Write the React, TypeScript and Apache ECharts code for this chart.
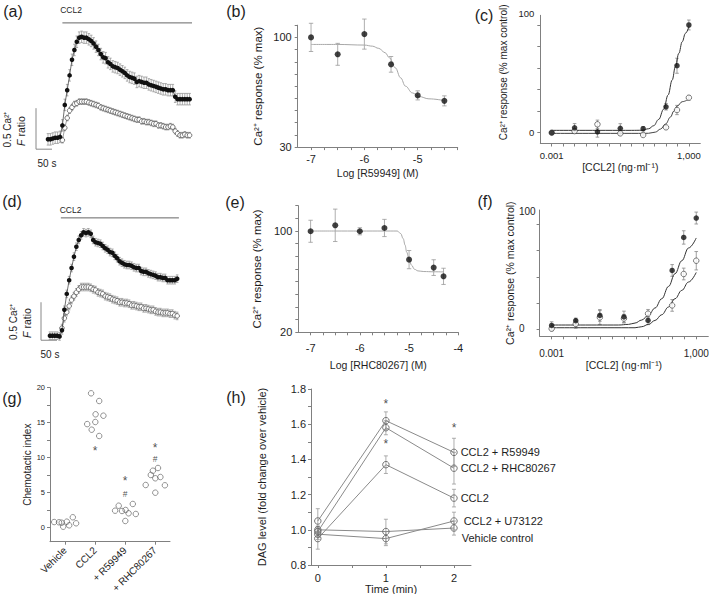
import { useEffect, useRef } from "react";
import * as echarts from "echarts";

const FONT = '"Liberation Sans", Arial, Helvetica, sans-serif';
const INK = "#1e1e1e";
const AXIS = "#808080";

// ---------- (a) Ca2+ traces (F ratio), sampled every 7.5 s ----------
const aSampleStep = 7.5;
const aFilled = [0.13,0.13,0.14,0.15,0.15,0.16,0.30,0.55,0.73,0.91,1.10,1.22,1.32,1.37,1.38,1.37,1.37,1.35,1.33,1.30,1.26,1.22,1.17,1.13,1.12,1.07,1.05,1.02,1.01,1.00,0.98,0.96,0.94,0.91,0.89,0.88,0.87,0.83,0.84,0.83,0.82,0.82,0.80,0.79,0.78,0.77,0.76,0.75,0.74,0.74,0.73,0.73,0.73,0.65,0.62,0.62,0.62,0.62,0.62,0.62];
const aOpen = [null,null,null,null,null,null,0.12,0.27,0.39,0.48,0.52,0.56,0.57,0.59,0.59,0.59,0.59,0.58,0.57,0.56,0.55,0.54,0.52,0.51,0.50,0.49,0.48,0.47,0.46,0.45,0.44,0.43,0.42,0.41,0.40,0.39,0.38,0.37,0.37,0.35,0.35,0.34,0.34,0.33,0.32,0.32,0.30,0.30,0.29,0.28,0.28,0.29,0.28,0.23,0.20,0.18,0.18,0.19,0.18,0.18];
const aFilledSem = 0.07;
const aOpenSem = 0.035;
const aStimulus = [45, 450];
const aStimLevel = 1.55;

// ---------- (d) Ca2+ traces ----------
const dSampleStep = 7.5;
const dFilled = [0.07,0.07,0.07,0.07,0.06,0.14,0.41,0.62,0.80,0.96,1.11,1.24,1.33,1.39,1.43,1.42,1.43,1.41,1.33,1.30,1.29,1.28,1.25,1.22,1.20,1.17,1.16,1.12,1.09,1.05,1.03,1.01,1.00,1.00,0.99,0.97,0.96,0.96,0.92,0.91,0.91,0.89,0.88,0.87,0.86,0.84,0.84,0.83,0.83,0.80,0.80,0.80,0.80,0.82];
const dOpen = [null,null,null,null,null,0.17,0.30,0.38,0.46,0.54,0.59,0.64,0.68,0.71,0.71,0.71,0.71,0.70,0.68,0.67,0.64,0.63,0.62,0.59,0.58,0.57,0.55,0.54,0.53,0.51,0.51,0.50,0.50,0.49,0.47,0.47,0.46,0.45,0.45,0.43,0.43,0.42,0.41,0.41,0.39,0.38,0.38,0.37,0.37,0.37,0.36,0.36,0.34,0.33];
const dFilledSem = 0.05;
const dOpenSem = 0.05;
const dStimulus = [34, 403];
const dStimLevel = 1.62;

const scaleBarSeconds = 50;
const scaleBarRatio = 0.5;

// ---------- (b) R59949 concentration-response ----------
const bLogConc = [-7, -6.5, -6, -5.5, -5, -4.5];
const bResponse = [100, 89.2, 102.1, 82.8, 63.0, 59.5];
const bSem = [9, 7, 9.6, 5, 2.9, 3.2];
const bFitLog = [-7, -6.5, -6, -5.85, -5.73, -5.61, -5.53, -5.42, -5.32, -5.23, -5.1, -4.98, -4.79, -4.52];
const bFitResp = [95.5, 95.5, 95.1, 94.4, 93.0, 90.2, 87.0, 80.6, 74.2, 68.9, 64.6, 62.3, 60.8, 59.8];

// ---------- (e) RHC80267 concentration-response ----------
const eLogConc = [-7, -6.5, -6, -5.5, -5, -4.5, -4.3];
const eResponse = [99.8, 104.5, 99.8, 102.4, 77.4, 71.1, 64.2];
const eSem = [8.7, 12.8, 2.8, 6.8, 7.2, 6.2, 6.4];
const eFitLog = [-7, -6.5, -6, -5.5, -5.24, -5.17, -5.12, -5.08, -5.05, -5.0, -4.95, -4.89, -4.82, -4.7, -4.5, -4.29];
const eFitResp = [100, 100, 100, 100, 100, 98, 94, 88.8, 83.5, 77.7, 73, 69.8, 68.5, 68, 67.8, 67.7];

// ---------- (c) CCL2 concentration-response (log10 ng/ml) ----------
const cLogConc = [-3, -2, -1, 0, 1, 2, 2.48, 3];
const cControl = [0, 4.6, 0.9, 4.1, 3.7, 24.1, 62.2, 100];
const cControlSem = [1.5, 3.9, 5, 4.3, 2, 3, 7, 4.6];
const cDrug = [0, 1.5, 7.8, -0.6, -2.1, 5.0, 21.1, 32.5];
const cDrugSem = [1, 2, 3.9, 1.5, 1, 1.5, 4.3, 2];
const cFitControlLog = [-3, 0.5, 0.95, 1.24, 1.46, 1.68, 1.9, 2.09, 2.27, 2.41, 2.56, 2.71, 2.85, 3.0];
const cFitControl = [2.2, 2.2, 2.3, 3.7, 6.5, 12.4, 22.0, 35.0, 48.9, 61.3, 73.7, 84.5, 92.3, 98.4];
const cFitDrugLog = [-3, 0.8, 1.24, 1.54, 1.76, 1.98, 2.2, 2.34, 2.49, 2.71, 3.0];
const cFitDrug = [-0.6, -0.6, -0.5, 0.6, 3.4, 8.1, 14.6, 20.1, 24.8, 28.8, 31.3];

// ---------- (f) CCL2 concentration-response ----------
const fLogConc = [-3, -2, -1, 0, 1, 2, 2.48, 3];
const fControl = [3.4, 8.0, 13.0, 11.5, 8.2, 56.1, 87.7, 106.3];
const fControlSem = [3.5, 2.4, 5.6, 5.6, 4, 5.6, 6.4, 5.7];
const fDrug = [0.3, 4.8, 11.1, 10, 14.7, 22.6, 52.7, 65.4];
const fDrugSem = [2, 4, 6.7, 4, 4, 5.6, 5.6, 8.8];
const fFitControlLog = [-3, -0.23, 0.19, 0.46, 0.74, 1.02, 1.29, 1.57, 1.85, 2.12, 2.4, 2.68, 3.0];
const fFitControl = [3.8, 3.8, 4.4, 5.7, 8.6, 13.4, 20.1, 29.0, 40.8, 53.0, 65.4, 77.6, 87.2];
const fFitDrugLog = [-3, 0.46, 0.74, 1.02, 1.29, 1.57, 1.85, 2.12, 2.4, 2.68, 3.0];
const fFitDrug = [1.2, 1.2, 2.2, 4.4, 8.2, 13.7, 21.1, 29.0, 37.0, 45.0, 54.2];

// ---------- (g) chemotactic index ----------
const gCategories = ["Vehicle", "CCL2", "+ R59949", "+ RHC80267"];
const gVehicleX = [0.64, 0.80, 0.89, 0.94, 1.06, 1.14, 1.26, 1.37];
const gVehicle = [0.81, 0.77, 0.71, 0.14, 0.86, 0.34, 1.49, 0.63];
const gCCL2X = [1.87, 2.14, 2.02, 2.28, 1.74, 2.01, 1.89, 2.14];
const gCCL2 = [19.2, 18.1, 16.2, 16.0, 14.8, 15.1, 14.0, 13.1];
const gR59949X = [2.67, 2.79, 2.9, 3.02, 3.12, 3.26, 3.36, 3.01];
const gR59949 = [2.43, 3.14, 2.39, 2.53, 2.06, 3.39, 1.96, 0.96];
const gRHCX = [3.69, 3.86, 3.93, 4.01, 4.1, 4.18, 4.01, 4.33];
const gRHC = [6.1, 7.53, 8.14, 7.06, 8.53, 7.24, 5.0, 6.06];
const gMarks: [number, number, string][] = [[2, 11.3, "*"], [3, 7.0, "*"], [3, 4.85, "#"], [4, 11.8, "*"], [4, 9.75, "#"]];

// ---------- (h) DAG level ----------
const hTimes = [0, 1, 2];
const hR59949 = [1.05, 1.62, 1.44];
const hR59949Sem = [0.07, 0.05, 0.08];
const hRHC = [0.99, 1.58, 1.35];
const hRHCSem = [0.03, 0.04, 0.09];
const hCCL2 = [0.95, 1.37, 1.18];
const hCCL2Sem = [0.06, 0.05, 0.05];
const hU73122 = [0.975, 0.95, 1.05];
const hU73122Sem = [0.03, 0.04, 0.05];
const hVehicle = [1.0, 0.99, 1.01];
const hVehicleSem = [0.02, 0.07, 0.04];
const hMarks: [number, number, string][] = [[1, 1.73, "*"], [1, 1.5, "*"], [2, 1.59, "*"]];

// ---------- helpers ----------
const pairs = (xs: number[], ys: (number | null)[]) => {
  const out: number[][] = [];
  xs.forEach((x, i) => {
    const y = ys[i];
    if (y != null) out.push([x, y]);
  });
  return out;
};
const sampleTimes = (n: number, step: number) => Array.from({ length: n }, (_, i) => i * step);

function errSeries(idx: number, xs: number[], ys: (number | null)[], sems: number[] | number, color: string, cap: number) {
  const data: number[][] = [];
  xs.forEach((x, i) => {
    const y = ys[i];
    if (y == null) return;
    const s = Array.isArray(sems) ? sems[i] : sems;
    data.push([x, y - s, y + s]);
  });
  return {
    type: "custom",
    xAxisIndex: idx,
    yAxisIndex: idx,
    z: 1,
    silent: true,
    data,
    encode: { x: 0, y: [1, 2] },
    renderItem: (_p: any, api: any) => {
      const x = api.value(0);
      const lo = api.coord([x, api.value(1)]);
      const hi = api.coord([x, api.value(2)]);
      const style = { stroke: color, lineWidth: 0.8, fill: "none" };
      return {
        type: "group",
        children: [
          { type: "line", shape: { x1: lo[0], y1: lo[1], x2: hi[0], y2: hi[1] }, style },
          { type: "line", shape: { x1: lo[0] - cap, y1: lo[1], x2: lo[0] + cap, y2: lo[1] }, style },
          { type: "line", shape: { x1: hi[0] - cap, y1: hi[1], x2: hi[0] + cap, y2: hi[1] }, style },
        ],
      };
    },
  };
}

const dots = (idx: number, data: number[][], size: number, filled: boolean) => ({
  type: "scatter",
  xAxisIndex: idx,
  yAxisIndex: idx,
  data,
  symbol: "circle",
  symbolSize: size,
  silent: true,
  z: 4,
  itemStyle: filled ? { color: "#111" } : { color: "#fff", borderColor: "#333", borderWidth: 0.8 },
});

const curve = (idx: number, data: number[][], color: string) => ({
  type: "line",
  xAxisIndex: idx,
  yAxisIndex: idx,
  data,
  symbol: "none",
  smooth: 0.4,
  smoothMonotone: "x",
  silent: true,
  z: 2,
  lineStyle: { color, width: 1 },
});

const trace = (idx: number, xs: number[], ys: (number | null)[], filled: boolean) => ({
  type: "line",
  xAxisIndex: idx,
  yAxisIndex: idx,
  data: pairs(xs, ys),
  symbol: "circle",
  symbolSize: 4.6,
  showSymbol: true,
  showAllSymbol: true,
  silent: true,
  z: filled ? 4 : 3,
  itemStyle: filled ? { color: "#111" } : { color: "#fff", borderColor: "#444", borderWidth: 0.7 },
  lineStyle: { color: filled ? "#333" : "#777", width: 0.7 },
});

const plainLine = (idx: number, data: number[][], color: string) => ({
  type: "line",
  xAxisIndex: idx,
  yAxisIndex: idx,
  data,
  symbol: "none",
  clip: false,
  silent: true,
  z: 2,
  lineStyle: { color, width: 1 },
});

type AxisOpts = {
  grid: number;
  min: number;
  max: number;
  ticks: number[];
  labels: number[];
  fmt: (v: number) => string;
  fontSize: number;
  margin: number;
  name?: string;
  nameGap?: number;
  nameSize?: number;
  namePad?: number[];
  align?: string;
  rich?: any;
  rotate?: number;
};

function axis(o: AxisOpts) {
  const axisLabel: any = {
    show: true,
    customValues: o.labels,
    formatter: o.fmt,
    fontSize: o.fontSize,
    color: INK,
    fontFamily: FONT,
    margin: o.margin,
    showMinLabel: true,
    showMaxLabel: true,
  };
  if (o.align) axisLabel.align = o.align;
  if (o.rich) axisLabel.rich = o.rich;
  if (o.rotate) axisLabel.rotate = o.rotate;
  const ax: any = {
    gridIndex: o.grid,
    type: "value",
    min: o.min,
    max: o.max,
    axisLine: { show: true, onZero: false, lineStyle: { color: AXIS, width: 1 } },
    axisTick: { show: true, customValues: o.ticks, length: 3, lineStyle: { color: AXIS, width: 1 } },
    axisLabel,
    splitLine: { show: false },
  };
  if (o.name) {
    ax.name = o.name;
    ax.nameLocation = "middle";
    ax.nameGap = o.nameGap;
    const nts: any = { fontSize: o.nameSize, color: INK, fontFamily: FONT };
    if (o.namePad) nts.padding = o.namePad;
    ax.nameTextStyle = nts;
  }
  return ax;
}

const hiddenAxis = (grid: number, min: number, max: number) => ({ gridIndex: grid, type: "value", min, max, show: false });

const range = (a: number, b: number, step: number) => {
  const out: number[] = [];
  for (let v = a; v <= b + step / 1000; v += step) out.push(Math.round(v * 1000) / 1000);
  return out;
};

const txt = (x: number, y: number, text: string, size: number, rotation = 0, rich?: any) => {
  const style: any = { text, fontSize: size, fontFamily: FONT, fill: INK, align: "center", verticalAlign: "middle" };
  if (rich) style.rich = rich;
  return { type: "text", x, y, rotation, silent: true, z: 10, style };
};

function buildOption() {
  const aT = sampleTimes(aFilled.length, aSampleStep);
  const dT = sampleTimes(dFilled.length, dSampleStep);
  const upRich = (size: number, pad: number) => ({ up: { fontSize: size, color: INK, fontFamily: FONT, padding: [0, 0, pad, 0] } });
  const italicRich = { i: { fontStyle: "italic", fontSize: 10.5, fontFamily: FONT, fill: INK } };

  const gridBase = { containLabel: false, outerBoundsMode: "none" };
  const grids = [
    { left: 36, top: 18.8, width: 160, height: 131.2 }, // a
    { left: 297.7, top: 25.2, width: 160, height: 121.9 }, // b
    { left: 540.3, top: 15.3, width: 160, height: 128.2 }, // c
    { left: 41, top: 211.8, width: 160, height: 129.2 }, // d
    { left: 298.3, top: 205.7, width: 160, height: 126.6 }, // e
    { left: 539.6, top: 210, width: 168.7, height: 126.3 }, // f
    { left: 50, top: 387.7, width: 120, height: 154 }, // g
    { left: 311, top: 389, width: 160, height: 176 }, // h
  ].map((g) => ({ ...gridBase, ...g }));

  const xAxis = [
    hiddenAxis(0, -37.5, 462.5),
    axis({ grid: 1, min: -7.25, max: -4.25, ticks: range(-7, -4.25, 0.25), labels: [-7, -6, -5], fmt: (v) => String(v), fontSize: 11, margin: 6, name: "Log [R59949] (M)", nameGap: 20, nameSize: 10.5 }),
    axis({ grid: 2, min: -3.5, max: 3.5, ticks: range(-3, 3, 0.5), labels: [-3, 3], fmt: (v) => (v < 0 ? "0.001" : "1,000"), fontSize: 9.5, margin: 7, name: "[CCL2] (ng·ml⁻¹)", nameGap: 14, nameSize: 10.5 }),
    hiddenAxis(3, -28, 472),
    axis({ grid: 4, min: -7.25, max: -4, ticks: range(-7, -4, 0.25), labels: [-7, -6, -5, -4], fmt: (v) => String(v), fontSize: 11, margin: 10, name: "Log [RHC80267] (M)", nameGap: 27, nameSize: 10.5 }),
    axis({ grid: 5, min: -3.5, max: 3.5, ticks: range(-3, 3, 0.5), labels: [-3, 3], fmt: (v) => (v < 0 ? "0.001" : "1,000"), fontSize: 10, margin: 12, name: "[CCL2] (ng·ml⁻¹)", nameGap: 23, nameSize: 10.5 }),
    axis({ grid: 6, min: 0.5, max: 4.5, ticks: [1, 2, 3, 4], labels: [1, 2, 3, 4], fmt: (v) => gCategories[Math.round(v) - 1], fontSize: 10, margin: 7, rotate: 45 }),
    axis({ grid: 7, min: -0.1, max: 2.25, ticks: [0, 0.5, 1, 1.5, 2], labels: [0, 1, 2], fmt: (v) => String(v), fontSize: 11, margin: 7, name: "Time (min)", nameGap: 17.5, nameSize: 11 }),
  ];

  const yAxis = [
    hiddenAxis(0, 0, 1.6),
    axis({ grid: 1, min: 30, max: 107.78, ticks: [30, 37.78, 45.56, 53.33, 61.11, 68.89, 76.67, 84.44, 92.22, 100, 107.78], labels: [30, 100], fmt: (v) => String(Math.round(v)), fontSize: 11, margin: 6, name: "Ca²⁺ response (% max)", nameGap: 34, nameSize: 11.5 }),
    axis({ grid: 2, min: -10, max: 109, ticks: [0, 20, 40, 60, 80, 100], labels: [0, 100], fmt: (v) => (v === 100 ? "{up|100}" : String(v)), fontSize: 9.5, margin: 6, rich: upRich(9.5, 22), name: "Ca²⁺ response (% max control)", nameGap: 32, nameSize: 10, namePad: [0, 0, 0, 14] }),
    hiddenAxis(3, 0, 1.7),
    axis({ grid: 4, min: 20, max: 120, ticks: range(20, 120, 10), labels: [20, 100], fmt: (v) => String(v), fontSize: 11, margin: 6, name: "Ca²⁺ response (% max)", nameGap: 35, nameSize: 11.5 }),
    axis({ grid: 5, min: -7, max: 114, ticks: [0, 25, 50, 75, 100], labels: [0, 100], fmt: (v) => (v === 100 ? "{up|100}" : String(v)), fontSize: 10, margin: 20.6, align: "left", rich: upRich(10, 26), name: "Ca²⁺ response (% max control)", nameGap: 21, nameSize: 10.5 }),
    axis({ grid: 6, min: -2, max: 20, ticks: range(0, 20, 2.5), labels: [0, 5, 10, 15, 20], fmt: (v) => String(v), fontSize: 7.5, margin: 5, name: "Chemotactic index", nameGap: 17.5, nameSize: 10 }),
    axis({ grid: 7, min: 0.8, max: 1.8, ticks: range(0.8, 1.8, 0.1), labels: [0.8, 1.0, 1.2, 1.4, 1.6, 1.8], fmt: (v) => v.toFixed(1), fontSize: 11, margin: 5, name: "DAG level (fold change over vehicle)", nameGap: 44, nameSize: 11 }),
  ];

  const hLine = (ys: number[], label: string, dist: number, offY: number) => ({
    type: "line",
    xAxisIndex: 7,
    yAxisIndex: 7,
    silent: true,
    z: 3,
    data: hTimes.map((t, i) =>
      i === hTimes.length - 1
        ? { value: [t, ys[i]], label: { show: true, position: "right", distance: dist, offset: [0, offY], formatter: label, fontSize: 11, color: INK, fontFamily: FONT } }
        : [t, ys[i]]
    ),
    symbol: "circle",
    symbolSize: 6.5,
    itemStyle: { color: "rgba(255,255,255,0)", borderColor: "#666", borderWidth: 0.9 },
    lineStyle: { color: "#8a8a8a", width: 1 },
  });

  // significance symbols (* and #) drawn as labels on their data position
  const markSeries = (idx: number, marks: [number, number, string][], starSize: number, hashSize: number) => ({
    type: "scatter",
    xAxisIndex: idx,
    yAxisIndex: idx,
    data: marks.map(([x, y, s]) => ({
      value: [x, y],
      label: {
        show: true,
        position: "inside",
        formatter: s,
        color: "#222",
        textBorderWidth: 0,
        textBorderColor: "transparent",
        fontSize: s === "*" ? starSize : hashSize,
        fontFamily: FONT,
        offset: [0, s === "*" ? 2.5 : 0],
      },
    })),
    symbolSize: 1,
    silent: true,
    z: 5,
    itemStyle: { color: "rgba(0,0,0,0)" },
    label: { show: true, color: "#222", textBorderWidth: 0 },
  });

  const series: any[] = [
    // (a)
    errSeries(0, aT, aOpen, aOpenSem, "#999", 1.3),
    errSeries(0, aT, aFilled, aFilledSem, "#999", 1.3),
    trace(0, aT, aOpen, false),
    trace(0, aT, aFilled, true),
    plainLine(0, [[aStimulus[0], aStimLevel], [aStimulus[1], aStimLevel]], "#666"),
    plainLine(0, [[-37.5, 0.01 + scaleBarRatio], [-37.5, 0.01], [-37.5 + scaleBarSeconds, 0.01]], "#888"),
    // (d)
    errSeries(3, dT, dOpen, dOpenSem, "#999", 1.3),
    errSeries(3, dT, dFilled, dFilledSem, "#999", 1.3),
    trace(3, dT, dOpen, false),
    trace(3, dT, dFilled, true),
    plainLine(3, [[dStimulus[0], dStimLevel], [dStimulus[1], dStimLevel]], "#666"),
    plainLine(3, [[-28, 0.01 + scaleBarRatio], [-28, 0.01], [-28 + scaleBarSeconds, 0.01]], "#888"),
    // (b)
    errSeries(1, bLogConc, bResponse, bSem, "#999", 2.2),
    curve(1, pairs(bFitLog, bFitResp), "#a8a8a8"),
    dots(1, pairs(bLogConc, bResponse), 6, true),
    // (e)
    errSeries(4, eLogConc, eResponse, eSem, "#999", 2.2),
    curve(4, pairs(eFitLog, eFitResp), "#a8a8a8"),
    dots(4, pairs(eLogConc, eResponse), 6, true),
    // (c)
    errSeries(2, cLogConc, cDrug, cDrugSem, "#888", 1.8),
    errSeries(2, cLogConc, cControl, cControlSem, "#888", 1.8),
    curve(2, pairs(cFitDrugLog, cFitDrug), "#444"),
    curve(2, pairs(cFitControlLog, cFitControl), "#333"),
    dots(2, pairs(cLogConc, cDrug), 5.5, false),
    dots(2, pairs(cLogConc, cControl), 5.5, true),
    // (f)
    errSeries(5, fLogConc, fDrug, fDrugSem, "#888", 1.8),
    errSeries(5, fLogConc, fControl, fControlSem, "#888", 1.8),
    curve(5, pairs(fFitDrugLog, fFitDrug), "#333"),
    curve(5, pairs(fFitControlLog, fFitControl), "#333"),
    dots(5, pairs(fLogConc, fDrug), 5.5, false),
    dots(5, pairs(fLogConc, fControl), 5.5, true),
    // (g)
    ...[
      [gVehicleX, gVehicle],
      [gCCL2X, gCCL2],
      [gR59949X, gR59949],
      [gRHCX, gRHC],
    ].map(([xs, ys]) => ({
      type: "scatter",
      xAxisIndex: 6,
      yAxisIndex: 6,
      data: pairs(xs, ys),
      symbol: "circle",
      symbolSize: 5.5,
      silent: true,
      z: 3,
      itemStyle: { color: "rgba(255,255,255,0)", borderColor: "#555", borderWidth: 0.8 },
    })),
    markSeries(6, gMarks, 12, 8.5),
    // (h)
    errSeries(7, hTimes, hVehicle, hVehicleSem, "#999", 2),
    errSeries(7, hTimes, hU73122, hU73122Sem, "#999", 2),
    errSeries(7, hTimes, hCCL2, hCCL2Sem, "#999", 2),
    errSeries(7, hTimes, hRHC, hRHCSem, "#999", 2),
    errSeries(7, hTimes, hR59949, hR59949Sem, "#999", 2),
    hLine(hR59949, "CCL2 + R59949", 3, 0),
    hLine(hRHC, "CCL2 + RHC80267", 3, 0),
    hLine(hCCL2, "CCL2", 3, 0),
    hLine(hU73122, "CCL2 + U73122", 6, 0),
    hLine(hVehicle, "Vehicle control", 4, 10),
    markSeries(7, hMarks, 12, 10),
  ];

  const graphic = [
    txt(13, 11, "(a)", 16),
    txt(236, 11, "(b)", 16),
    txt(484, 15, "(c)", 16),
    txt(12, 201, "(d)", 16),
    txt(235, 202, "(e)", 16),
    txt(485, 201, "(f)", 16),
    txt(12, 398, "(g)", 16),
    txt(236, 397, "(h)", 16),
    // (a) annotations
    txt(71, 10, "CCL2", 8.5),
    txt(47, 163, "50 s", 10),
    txt(7.8, 129.5, "0.5 Ca²⁺", 10, Math.PI / 2),
    txt(21, 131, "{i|F} ratio", 10.5, Math.PI / 2, italicRich),
    // (d) annotations
    txt(70.5, 209.7, "CCL2", 8.5),
    txt(50, 354.5, "50 s", 10),
    txt(13.3, 322, "0.5 Ca²⁺", 10, Math.PI / 2),
    txt(26.7, 323, "{i|F} ratio", 10.5, Math.PI / 2, italicRich),
  ];

  return {
    animation: false,
    backgroundColor: "#ffffff",
    textStyle: { fontFamily: FONT },
    grid: grids,
    xAxis,
    yAxis,
    series,
    graphic,
  };
}

export default function App() {
  const ref = useRef<HTMLDivElement>(null);
  useEffect(() => {
    document.body.style.margin = "0";
    const chart = echarts.init(ref.current!, null, { renderer: "svg" });
    chart.setOption(buildOption() as any);
    return () => chart.dispose();
  }, []);
  return <div ref={ref} style={{ width: 709, height: 594 }} />;
}
